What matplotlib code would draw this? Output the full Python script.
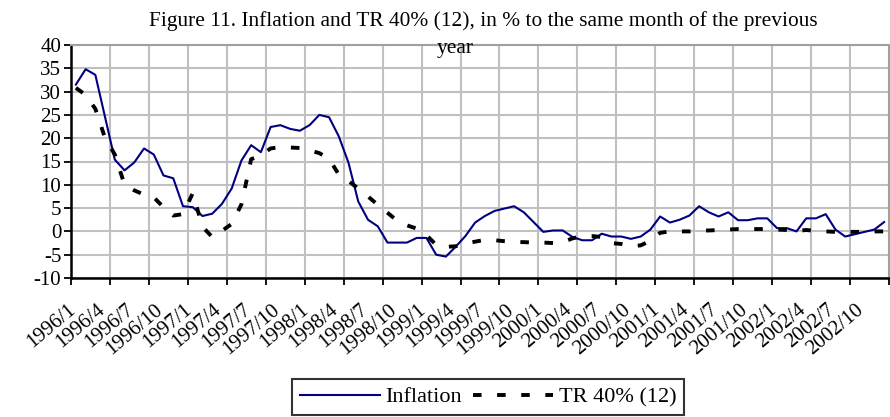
import numpy as np
import matplotlib
matplotlib.use("Agg")
import matplotlib.pyplot as plt
import matplotlib.transforms as mtransforms

# monthly data, 1996/1 .. 2002/12
months = [f"{y}/{m}" for y in range(1996, 2003) for m in range(1, 13)]

inflation = [
    31.5, 34.8, 33.6, 24.5, 15.4, 13.1, 14.8, 17.8, 16.5, 12.0, 11.4, 5.4,
    5.2, 3.3, 3.8, 5.9, 9.2, 15.2, 18.5, 17.0, 22.4, 22.8, 22.0, 21.6,
    22.8, 25.0, 24.5, 20.4, 14.7, 6.4, 2.5, 1.1, -2.4, -2.4, -2.4, -1.4,
    -1.4, -5.0, -5.4, -3.3, -1.0, 1.9, 3.3, 4.4, 4.9, 5.4, 4.1, 2.0,
    -0.1, 0.2, 0.2, -1.2, -1.9, -1.9, -0.5, -1.1, -1.1, -1.6, -1.1, 0.4,
    3.2, 1.9, 2.5, 3.4, 5.4, 4.1, 3.2, 4.1, 2.4, 2.4, 2.8, 2.8,
    0.7, 0.7, 0.0, 2.8, 2.8, 3.7, 0.4, -1.1, -0.6, -0.1, 0.4, 2.0,
]

tr40 = [
    30.8, 29.3, 26.3, 20.0, 16.5, 10.0, 8.8, 7.9, 7.3, 5.2, 3.4, 3.7,
    8.2, 1.0, -1.2, 0.1, 1.6, 5.8, 15.5, 16.3, 17.8, 18.1, 18.0, 17.9,
    17.4, 16.8, 15.6, 12.2, 10.8, 9.2, 7.5, 5.7, 4.0, 2.3, 1.3, 0.6,
    -0.8, -2.9, -3.3, -3.2, -2.6, -2.2, -1.8, -1.9, -2.1, -2.3, -2.3, -2.4,
    -2.4, -2.5, -2.3, -1.5, -1.0, -1.0, -1.2, -2.5, -2.7, -3.2, -3.0, -2.0,
    -0.3, 0.0, 0.0, 0.0, 0.2, 0.2, 0.3, 0.4, 0.5, 0.5, 0.5, 0.5,
    0.4, 0.3, 0.1, 0.3, 0.1, 0.0, -0.1, -0.1, -0.1, -0.1, 0.0, 0.0,
]

plt.rcParams['font.family'] = ['Liberation Serif', 'DejaVu Serif']
plt.rcParams['axes.unicode_minus'] = False
fs = 15

fig = plt.figure(figsize=(8.9, 4.17), dpi=100)
ax = fig.add_axes([71 / 890, 1 - 278 / 417, 818 / 890, 233 / 417])

x = np.arange(len(months))
ax.plot(x, inflation, color='#000080', lw=1.5, label='Inflation', zorder=3)
ax.plot(x, tr40, color='black', lw=2.8, linestyle=(0, (2.2, 4.0)),
        dash_capstyle='butt', label='TR 40% (12)', zorder=3)

ax.set_xlim(-0.5, len(months) - 0.5)
ax.set_ylim(-10, 40)
ax.set_yticks(np.arange(-10, 41, 5))

# tick marks / vertical grid every 4 months, labels every 3 months
ax.set_xticks(np.arange(-0.5, len(months), 4))
ax.set_xticklabels([])
ax.set_xticks(x[::3], minor=True)
ax.set_xticklabels(months[::3], minor=True, rotation=40, ha='right',
                   va='top', rotation_mode='anchor', fontsize=fs)
ax.tick_params(axis='x', which='minor', length=0, pad=16)
ax.tick_params(axis='x', which='major', length=5, width=1.3, direction='out')
ax.tick_params(axis='y', length=5, width=1.3, direction='out', labelsize=fs, pad=2)
shift = mtransforms.ScaledTranslation(-9 / 100, 0, fig.dpi_scale_trans)
for lab in ax.get_xticklabels(minor=True):
    lab.set_transform(lab.get_transform() + shift)

ax.grid(True, which='major', color='#c0c0c0', lw=1.5, zorder=0)
ax.set_axisbelow(True)
for s in ['top', 'right']:
    ax.spines[s].set_color('#a0a0a0')
    ax.spines[s].set_linewidth(1.5)
for s in ['left', 'bottom']:
    ax.spines[s].set_color('black')
    ax.spines[s].set_linewidth(1.8)

fig.text(483 / 890, 1 - 21 / 417,
         "Figure 11. Inflation and TR 40% (12), in % to the same month of the previous",
         ha='center', va='center', fontsize=15.4)
fig.text(455 / 890, 1 - 48 / 417, "year", ha='center', va='center', fontsize=15.4)

leg = fig.legend(loc='center', bbox_to_anchor=(488 / 890, 1 - 397 / 417), ncol=2,
                 frameon=True, fancybox=False, fontsize=16, handlelength=3.6,
                 handletextpad=0.25, columnspacing=0.5, borderpad=0.35)
leg.get_frame().set_edgecolor('black')
leg.get_frame().set_linewidth(1.5)

fig.savefig('out.png', dpi=100)
